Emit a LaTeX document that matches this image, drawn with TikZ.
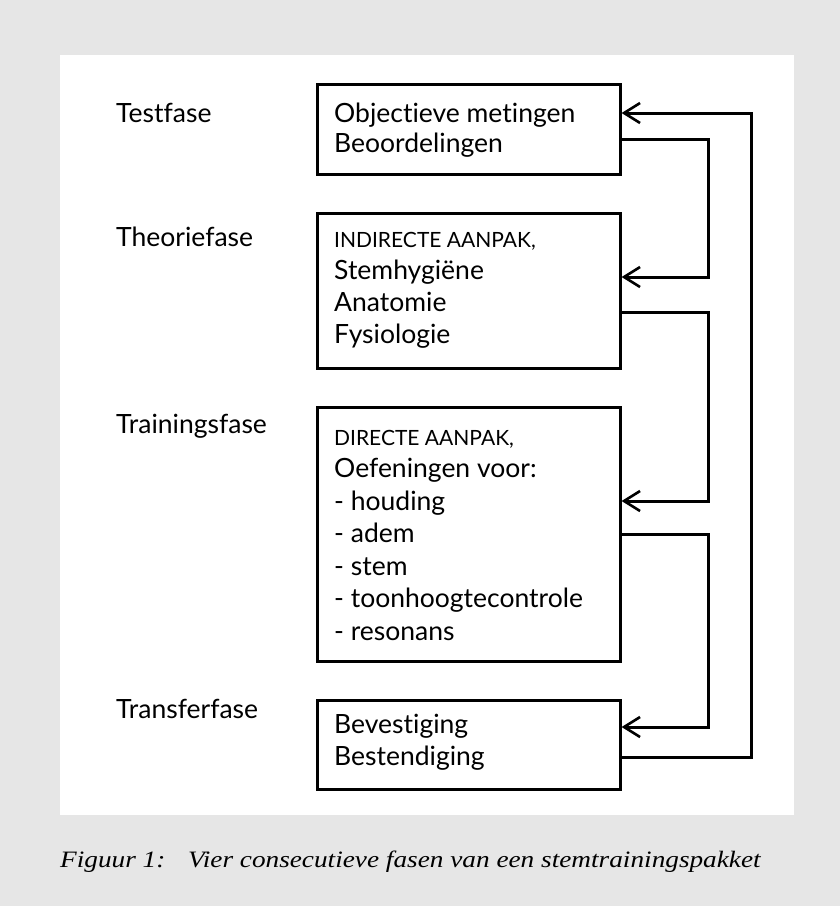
\documentclass[tikz,border=0pt]{standalone}
\usepackage{fontspec}
\setmainfont{Lato}[Ligatures={NoCommon,NoRare}]
\newfontfamily\capfont{Liberation Serif}[FakeStretch=1.16]
\usetikzlibrary{arrows.meta}
\definecolor{bggrey}{HTML}{E6E6E6}
\begin{document}
\begin{tikzpicture}[x=1pt,y=-1pt,
  box/.style={draw, line width=2.6pt, minimum width=303pt, anchor=north west, inner sep=0pt},
  conn/.style={draw, line width=3pt, line join=miter},
  arr/.style={conn, -{Straight Barb[length=16pt,width=20pt,line width=2.6pt]}},
  txt/.style={anchor=base west, inner sep=0pt, font=\fontsize{26.5}{30}\selectfont},
  sctxt/.style={anchor=base west, inner sep=0pt, font=\fontsize{21}{24}\selectfont},
  caption/.style={anchor=base west, inner sep=0pt, font=\capfont\itshape\fontsize{23.5}{28}\selectfont},
]
\fill[bggrey] (0,0) rectangle (840,906);
\fill[white] (60,55) rectangle (794,815);
\useasboundingbox (0,0) rectangle (840,906);

% phase labels
\node[txt] (l1) at (116,122) {Testfase};
\node[txt] (l2) at (116,246) {Theoriefase};
\node[txt] (l3) at (116,433) {Trainingsfase};
\node[txt] (l4) at (116,718) {Transferfase};

% boxes
\node[box, minimum height=90pt] (b1) at (316,83) {};
\node[box, minimum height=155pt] (b2) at (316,212) {};
\node[box, minimum height=254pt] (b3) at (316,406) {};
\node[box, minimum height=89pt] (b4) at (316,699) {};

% box texts
\node[txt] (t11) at (334,122) {Objectieve metingen};
\node[txt] (t12) at (334,152) {Beoordelingen};

\node[sctxt] (t21) at (334,247) {INDIRECTE AANPAK,};
\node[txt] (t22) at (334,279) {Stemhygiëne};
\node[txt] (t23) at (334,311) {Anatomie};
\node[txt] (t24) at (334,343) {Fysiologie};

\node[sctxt] (t31) at (334,445) {DIRECTE AANPAK,};
\node[txt] (t32) at (334,477) {Oefeningen voor:};
\node[txt] (t33) at (334,510) {- houding};
\node[txt] (t34) at (334,542) {- adem};
\node[txt] (t35) at (334,575) {- stem};
\node[txt] (t36) at (334,607) {- toonhoogtecontrole};
\node[txt] (t37) at (334,640) {- resonans};

\node[txt] (t41) at (334,733) {Bevestiging};
\node[txt] (t42) at (334,765) {Bestendiging};

% connectors
\coordinate (c1) at (708,0);
\coordinate (c2) at (751,0);
\path[arr] (b1.east |- 0,139) -- (c1 |- 0,139) -- (c1 |- 0,277) -- (b2.east |- 0,277);
\path[arr] (b2.east |- 0,312) -- (c1 |- 0,312) -- (c1 |- 0,501) -- (b3.east |- 0,501);
\path[arr] (b3.east |- 0,534) -- (c1 |- 0,534) -- (c1 |- 0,727) -- (b4.east |- 0,727);
\path[arr] (b4.east |- 0,757) -- (c2 |- 0,757) -- (c2 |- 0,113) -- (b1.east |- 0,113);

% caption
\node[caption] (cap1) at (60,867) {Figuur 1:};
\node[caption] (cap2) at (188,867) {Vier consecutieve fasen van een stemtrainingspakket};
\end{tikzpicture}
\end{document}
